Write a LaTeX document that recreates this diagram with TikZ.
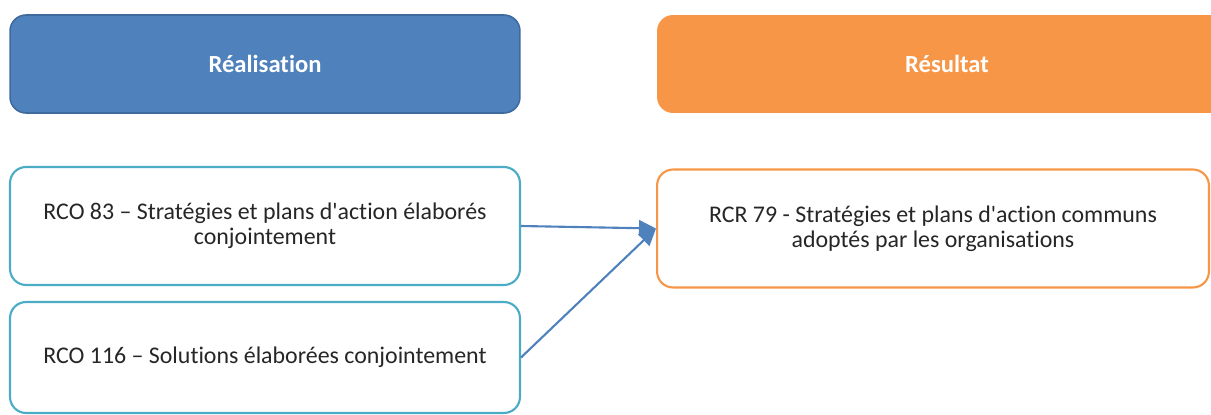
\documentclass[tikz,border=0pt]{standalone}
\usepackage{fontspec}
\setmainfont{Carlito}[Ligatures=NoCommon]
\usetikzlibrary{arrows.meta}
\definecolor{blueHead}{HTML}{4F81BD}
\definecolor{blueEdge}{HTML}{3E6A9E}
\definecolor{orangeHead}{HTML}{F79646}
\definecolor{cyanEdge}{HTML}{4BACC6}
\definecolor{txtGrey}{HTML}{262626}
\tikzstyle{head}=[rectangle, rounded corners=0.32cm, minimum width=10.2cm, minimum height=1.96cm, inner sep=0pt, anchor=center, text=white, font=\bfseries\fontsize{14}{16}\selectfont]
\tikzstyle{item}=[rectangle, rounded corners=0.32cm, minimum width=10.2cm, minimum height=2.36cm, inner sep=0pt, fill=white, line width=1.2pt, anchor=center, align=center, text=txtGrey, font=\fontsize{13.6}{14.5}\selectfont]
\tikzstyle{link}=[blueHead, line width=1.2pt, -{Triangle[length=0.34cm, width=0.32cm]}]

\begin{document}
\begin{tikzpicture}[x=0.02cm, y=-0.02cm]
	\useasboundingbox (0,0) rectangle (1211,415);

	% en-tetes
	\node[head, fill=blueHead, draw=blueEdge, line width=0.9pt](realisation) at (265,64){Réalisation};
	\node[head, fill=orangeHead, minimum width=11.6cm](resultat) at (947,64){Résultat};

	% indicateurs
	\node[item, draw=cyanEdge](rco83) at (265,226){RCO 83 -- Stratégies et plans d\textquotesingle action élaborés\\conjointement};
	\node[item, draw=cyanEdge, minimum height=2.22cm](rco116) at (265,357.5){RCO 116 -- Solutions élaborées conjointement};
	\node[item, draw=orangeHead, minimum width=11.04cm](rcr79) at (933,228.5){RCR 79 - Stratégies et plans d\textquotesingle action communs\\adoptés par les organisations};

	\draw[link] (rco83.east) -- (rcr79.west);
	\draw[link] (rco116.east) -- (rcr79.west);

\end{tikzpicture}
\end{document}
